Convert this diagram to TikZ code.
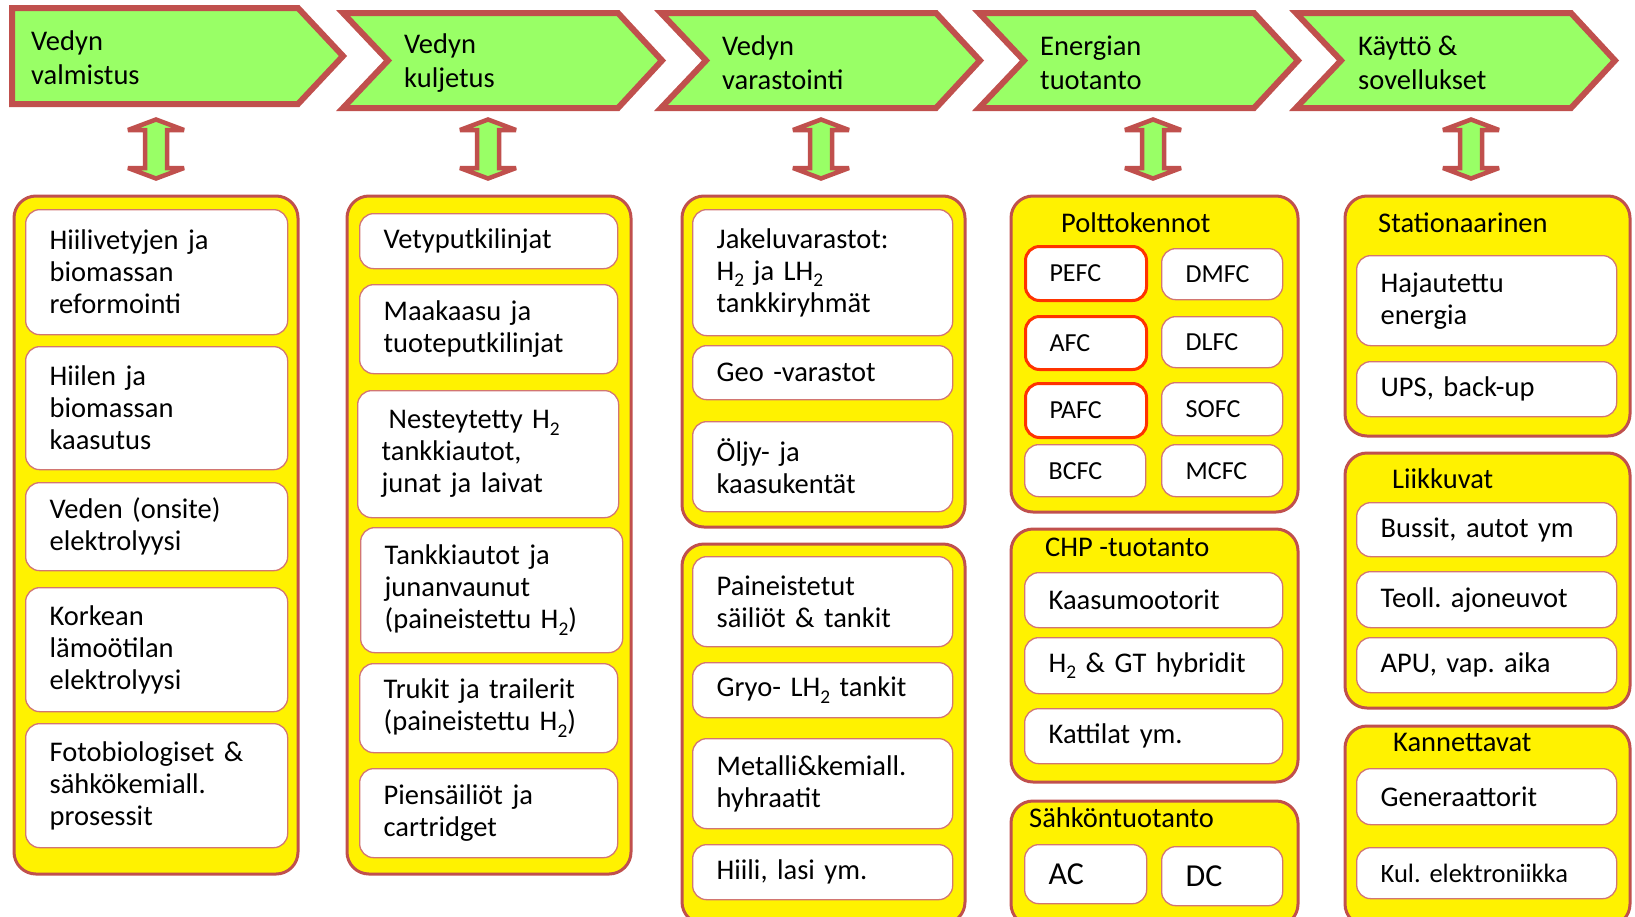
\documentclass[tikz,border=0pt]{standalone}
\usepackage{fontspec}
\setmainfont{Carlito}
\frenchspacing
\definecolor{chev}{HTML}{99FF66}
\definecolor{edge}{HTML}{C0504D}
\definecolor{pale}{HTML}{D27672}
\definecolor{hot}{HTML}{FF3300}
\newcommand{\Htwo}{H\raisebox{-0.22em}{\scalebox{0.68}{2}}}
\newcommand{\LHtwo}{LH\raisebox{-0.22em}{\scalebox{0.68}{2}}}
% two-way block arrow centred at the given point
\newcommand{\twoway}[1]{%
  \draw[link, shift={#1}] (0,-29.5) -- (28,-19) -- (11,-19) -- (11,19) -- (28,19)
    -- (0,29.5) -- (-28,19) -- (-11,19) -- (-11,-19) -- (-28,-19) -- cycle;}

\tikzset{
  stage/.style={draw=edge, fill=chev, line width=6bp},
  stagetext/.style={anchor=west, align=left, inner sep=0pt,
    font=\fontsize{28.5bp}{34bp}\selectfont},
  link/.style={draw=edge, fill=chev, line width=4.5bp, miter limit=3},
  group/.style={draw=edge, fill=yellow, line width=3bp, rounded corners=22bp,
    anchor=north west, inner sep=0pt},
  item/.style={draw=pale, fill=white, line width=1.3bp, rounded corners=14bp,
    anchor=north west, align=left, inner xsep=24bp, inner ysep=0pt,
    font=\fontsize{28.5bp}{32bp}\selectfont},
  cell/.style={item, font=\fontsize{26bp}{30bp}\selectfont},
  hotcell/.style={cell, draw=hot, line width=3bp},
  bw/.style={minimum width=#1bp, text width=#1bp-48bp},
  bh/.style={minimum height=#1bp},
  gw/.style={minimum width=#1bp},
  head/.style={anchor=west, inner sep=0pt, font=\fontsize{28.5bp}{32bp}\selectfont},
}

\begin{document}
\begin{tikzpicture}[x=1bp, y=-1bp]
\useasboundingbox (0,0) rectangle (1635,916);

% stages of the hydrogen chain
\draw[stage] (12,8) -- (298,8) -- (343,56) -- (298,104) -- (12,104) -- cycle;
\foreach \L in {340,658,976,1293}{
  \draw[stage] (\L+3,13) -- (\L+278,13) -- (\L+322,60.5) -- (\L+278,108)
    -- (\L+3,108) -- (\L+48,60.5) -- cycle;
}
\node[stagetext] (s1) at (31,58) {Vedyn\\valmistus};
\node[stagetext] (s2) at (404,63) {Vedyn\\kuljetus};
\node[stagetext] (s3) at (722,63) {Vedyn\\varastointi};
\node[stagetext] (s4) at (1040,63) {Energian\\tuotanto};
\node[stagetext] (s5) at (1358,63) {Käyttö \&\\sovellukset};

% two-way arrows between stages and their groups
\twoway{(156,149)}
\twoway{(488,149)}
\twoway{(821,149)}
\twoway{(1153,149)}
\twoway{(1471,149)}

% yellow group panels
\node[group, gw=284, bh=678] (g1) at (12.5,194.5) {};
\node[group, gw=284, bh=678] (g2) at (345.5,194.5) {};
\node[group, gw=283, bh=331] (g3a) at (680.5,194.5) {};
\node[group, gw=283, bh=380] (g3b) at (680.5,542.5) {};
\node[group, gw=287, bh=316] (g4a) at (1009.5,194.5) {};
\node[group, gw=287, bh=253] (g4b) at (1009.5,527.5) {};
\node[group, gw=287, bh=125] (g4c) at (1009.5,799.5) {};
\node[group, gw=285, bh=240] (g5a) at (1343.5,194.5) {};
\node[group, gw=285, bh=255] (g5b) at (1343.5,451.5) {};
\node[group, gw=285, bh=200] (g5c) at (1343.5,724.5) {};

% production
\node[item, bw=262, bh=125] (p1) at (25,209) {Hiilivetyjen ja\\biomassan\\reformointi};
\node[item, bw=262, bh=123] (p2) at (25,346) {Hiilen ja\\biomassan\\kaasutus};
\node[item, bw=262, bh=88] (p3) at (25,482) {Veden (onsite)\\elektrolyysi};
\node[item, bw=262, bh=124] (p4) at (25,587) {Korkean\\lämoötilan\\elektrolyysi};
\node[item, bw=262, bh=124] (p5) at (25,723) {Fotobiologiset \&\\sähkökemiall.\\prosessit};

% transport
\node[item, bw=258, bh=55] (t1) at (359,213) {Vetyputkilinjat};
\node[item, bw=258, bh=89] (t2) at (359,284) {Maakaasu ja\\tuoteputkilinjat};
\node[item, bw=261, bh=127] (t3) at (357,390) {\hspace*{7bp}Nesteytetty \Htwo\\tankkiautot,\\junat ja laivat};
\node[item, bw=262, bh=125] (t4) at (360,527) {Tankkiautot ja\\junanvaunut\\(paineistettu \Htwo)};
\node[item, bw=258, bh=89] (t5) at (359,663) {Trukit ja trailerit\\(paineistettu \Htwo)};
\node[item, bw=258, bh=89] (t6) at (359,768) {Piensäiliöt ja\\cartridget};

% storage
\node[item, bw=260, bh=126] (v1) at (692,209) {Jakeluvarastot:\\\Htwo{} ja \LHtwo\\tankkiryhmät};
\node[item, bw=260, bh=54] (v2) at (692,345) {Geo -varastot};
\node[item, bw=260, bh=90] (v3) at (692,421) {Öljy- ja\\kaasukentät};
\node[item, bw=260, bh=90] (v4) at (692,556) {Paineistetut\\säiliöt \& tankit};
\node[item, bw=260, bh=55] (v5) at (692,662) {Gryo- \LHtwo{} tankit};
\node[item, bw=260, bh=90] (v6) at (692,738) {Metalli\&kemiall.\\hyhraatit};
\node[item, bw=260, bh=55] (v7) at (692,844) {Hiili, lasi ym.};

% energy production
\node[head] (h4a) at (1061,223) {Polttokennot};
\node[hotcell, bw=121, bh=54] (fc1) at (1024,245) {PEFC};
\node[cell, bw=121, bh=51] (fc2) at (1161,248) {DMFC};
\node[hotcell, bw=121, bh=53] (fc3) at (1024,315) {AFC};
\node[cell, bw=121, bh=51] (fc4) at (1161,316) {DLFC};
\node[hotcell, bw=121, bh=54] (fc5) at (1024,382) {PAFC};
\node[cell, bw=121, bh=53] (fc6) at (1161,382) {SOFC};
\node[cell, bw=121, bh=52] (fc7) at (1024,444) {BCFC};
\node[cell, bw=121, bh=52] (fc8) at (1161,444) {MCFC};

\node[head] (h4b) at (1045,547) {CHP -tuotanto};
\node[item, bw=258, bh=55] (e1) at (1024,572) {Kaasumootorit};
\node[item, bw=258, bh=56] (e2) at (1024,637) {\Htwo{} \& GT hybridit};
\node[item, bw=258, bh=55] (e3) at (1024,708) {Kattilat ym.};

\node[head] (h4c) at (1029,818) {Sähköntuotanto};
\node[item, bw=122, bh=59, font=\fontsize{32bp}{36bp}\selectfont] (ac) at (1024,844) {AC};
\node[item, bw=121, bh=59, font=\fontsize{32bp}{36bp}\selectfont] (dc) at (1161,846) {DC};

% use and applications
\node[head] (h5a) at (1378,223) {Stationaarinen};
\node[item, bw=260, bh=90] (u1) at (1356,255) {Hajautettu\\energia};
\node[item, bw=260, bh=55] (u2) at (1356,361) {UPS, back-up};

\node[head] (h5b) at (1392,479) {Liikkuvat};
\node[item, bw=260, bh=54] (u3) at (1356,502) {Bussit, autot ym};
\node[item, bw=260, bh=56] (u4) at (1356,571) {Teoll. ajoneuvot};
\node[item, bw=260, bh=55] (u5) at (1356,637) {APU, vap. aika};

\node[head] (h5c) at (1393,742) {Kannettavat};
\node[item, bw=260, bh=56] (u6) at (1356,768) {Generaattorit};
\node[item, bw=260, bh=51, font=\fontsize{26.5bp}{30bp}\selectfont] (u7) at (1356,847) {Kul. elektroniikka};
\end{tikzpicture}
\end{document}
